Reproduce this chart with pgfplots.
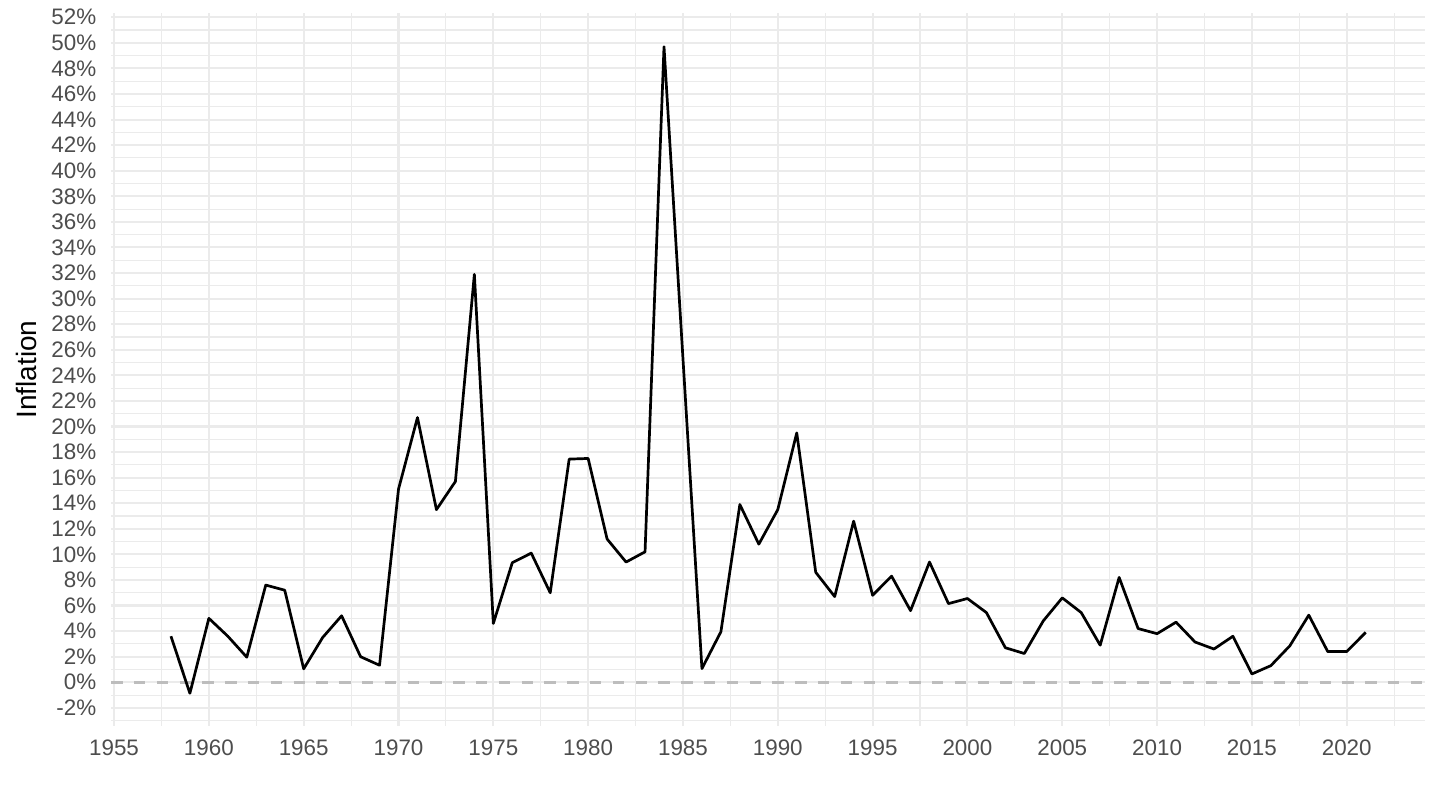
\documentclass[border=0pt]{standalone}
\usepackage{fontspec}
\setmainfont{Liberation Sans}
\usepackage{pgfplots}
\pgfplotsset{compat=1.18}

\definecolor{grid92}{HTML}{EBEBEB}
\definecolor{labgray}{HTML}{4D4D4D}
\definecolor{zerogray}{HTML}{BDBDBD}

% annual inflation, %
\pgfplotstableread{
year infl
1958 3.6
1959 -0.86
1960 5.0
1961 3.6
1962 1.96
1963 7.6
1964 7.2
1965 1.05
1966 3.5
1967 5.2
1968 2.0
1969 1.33
1970 15.1
1971 20.7
1972 13.5
1973 15.7
1974 31.9
1975 4.6
1976 9.35
1977 10.1
1978 7.0
1979 17.45
1980 17.5
1981 11.2
1982 9.4
1983 10.2
1984 49.7
1985 25.3
1986 1.07
1987 3.95
1988 13.9
1989 10.8
1990 13.5
1991 19.5
1992 8.6
1993 6.7
1994 12.6
1995 6.8
1996 8.3
1997 5.6
1998 9.4
1999 6.15
2000 6.55
2001 5.45
2002 2.7
2003 2.25
2004 4.8
2005 6.6
2006 5.45
2007 2.9
2008 8.2
2009 4.2
2010 3.8
2011 4.7
2012 3.15
2013 2.6
2014 3.6
2015 0.65
2016 1.3
2017 2.85
2018 5.25
2019 2.4
2020 2.4
2021 3.9
}\inflation

\begin{document}
\begin{tikzpicture}
\useasboundingbox (0,0) rectangle (720pt,405pt);
\begin{axis}[
    at={(55.6pt,42.25pt)}, anchor=south west,
    scale only axis, width=657.1pt, height=356.05pt,
    xmin=1954.85, xmax=2024.15,
    ymin=-3.38, ymax=52.3,
    axis line style={draw=none},
    tick style={draw=none},
    grid=both,
    major grid style={color=grid92, line width=1.05pt},
    minor grid style={color=grid92, line width=0.55pt},
    xtick={1955,1960,...,2020},
    xticklabels={1955,1960,1965,1970,1975,1980,1985,1990,1995,2000,2005,2010,2015,2020},
    minor xtick={1957.5,1962.5,...,2022.5},
    ytick={-2,0,...,52},
    yticklabels={-2\%,0\%,2\%,4\%,6\%,8\%,10\%,12\%,14\%,16\%,18\%,20\%,22\%,24\%,26\%,28\%,30\%,32\%,34\%,36\%,38\%,40\%,42\%,44\%,46\%,48\%,50\%,52\%},
    minor ytick={-3,-1,...,51},
    x tick label style={font=\fontsize{11.2}{13}\selectfont, text=labgray, anchor=north, inner sep=0pt, yshift=-6.75pt},
    y tick label style={font=\fontsize{11.2}{13}\selectfont, text=labgray, anchor=east, inner sep=0pt, xshift=-7.25pt},
    ylabel={Inflation},
    every axis y label/.style={at={(axis description cs:-0.05669,0.5)}, rotate=90, anchor=south, inner sep=0pt, font=\fontsize{14}{16}\selectfont},
]
\addplot[zerogray, line width=1.45pt, dash pattern=on 5.7pt off 5.7pt] coordinates {(1954.85,0) (2024.15,0)};
\addplot[black, line width=1.35pt, line join=round] table[x=year, y=infl] {\inflation};
\end{axis}
\end{tikzpicture}
\end{document}
